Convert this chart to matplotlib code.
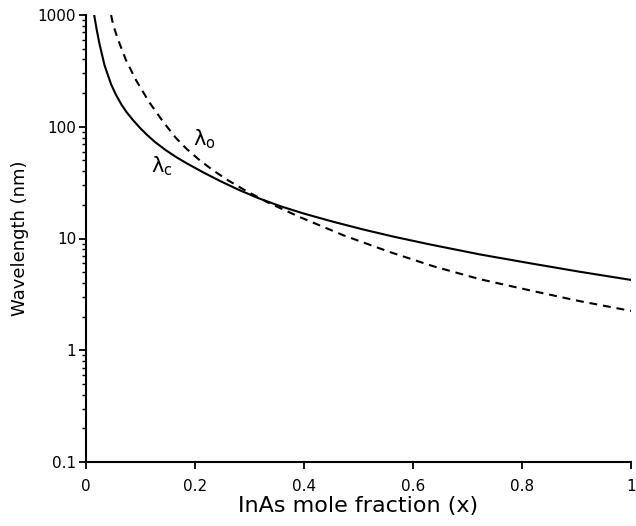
import numpy as np
import matplotlib.pyplot as plt
from matplotlib.ticker import LogLocator, FixedLocator

# 数据：点
x_c = [0.015, 0.0195, 0.0245, 0.034, 0.046, 0.055, 0.065, 0.075, 0.086, 0.1, 0.113, 0.127, 0.145, 0.165,
       0.185, 0.215, 0.246, 0.28, 0.316, 0.356, 0.40, 0.454, 0.51, 0.564, 0.63, 0.723, 0.815, 0.906, 1.0]
lam_c = [1000, 745, 558, 355, 240, 193, 158, 134, 115, 96.6, 83.6, 72.8, 62.4, 53.7,
         47, 39.1, 32.7, 27.3, 23.0, 19.5, 16.7, 14.1, 12.0, 10.4, 8.87, 7.2, 6.0, 5.04, 4.26]

x_o = [0.046, 0.05, 0.058, 0.073, 0.092, 0.116, 0.142, 0.165, 0.185, 0.21, 0.234, 0.26, 0.289,
       0.332, 0.393, 0.472, 0.558, 0.637, 0.723, 0.815, 0.906, 1.0]
lam_o = [1000, 813, 617, 398, 260, 166, 110, 79.4, 63.1, 49.5, 40.5, 33.3, 27.5,
         21.2, 15.5, 10.7, 7.55, 5.65, 4.32, 3.43, 2.75, 2.25]

xticks = [0, 0.2, 0.4, 0.6, 0.8, 1]
xtick_labels = ["0", "0.2", "0.4", "0.6", "0.8", "1"]
yticks = [0.1, 1, 10, 100, 1000]
ytick_labels = ["0.1", "1", "10", "100", "1000"]


def wavelength():
    fig = plt.figure(figsize=(6.36, 5.26), dpi=100)
    ax = fig.add_axes([86 / 636, 1 - 462 / 526, 545 / 636, 447 / 526])

    ax.plot(x_c, lam_c, color="k", lw=1.5)
    ax.plot(x_o, lam_o, color="k", lw=1.5, ls=(0, (3.8, 2.8)))

    ax.set_yscale("log")
    ax.set_xlim(0, 1)
    ax.set_ylim(0.1, 1000)

    ax.xaxis.set_major_locator(FixedLocator(xticks))
    ax.set_xticklabels(xtick_labels)
    ax.yaxis.set_major_locator(FixedLocator(yticks))
    ax.set_yticklabels(ytick_labels)
    ax.yaxis.set_minor_locator(LogLocator(base=10, subs=np.arange(2, 10)))

    for s in ["top", "right"]:
        ax.spines[s].set_visible(False)
    for s in ["left", "bottom"]:
        ax.spines[s].set_linewidth(1.5)

    ax.tick_params(which="major", direction="out", length=5, width=1.3, labelsize=11)
    ax.tick_params(axis="x", which="major", pad=7)
    ax.tick_params(axis="y", which="major", pad=2)
    ax.tick_params(which="minor", direction="out", length=3, width=1.0)

    ax.set_xlabel("InAs mole fraction (x)", fontsize=16, labelpad=2)
    ax.set_ylabel("Wavelength (nm)", fontsize=13, labelpad=6)

    ax.text(0.12, 39, r"$\mathregular{\lambda_c}$", fontsize=15)
    ax.text(0.196, 68, r"$\mathregular{\lambda_o}$", fontsize=15)

    fig.savefig("out.png", dpi=100)


wavelength()
